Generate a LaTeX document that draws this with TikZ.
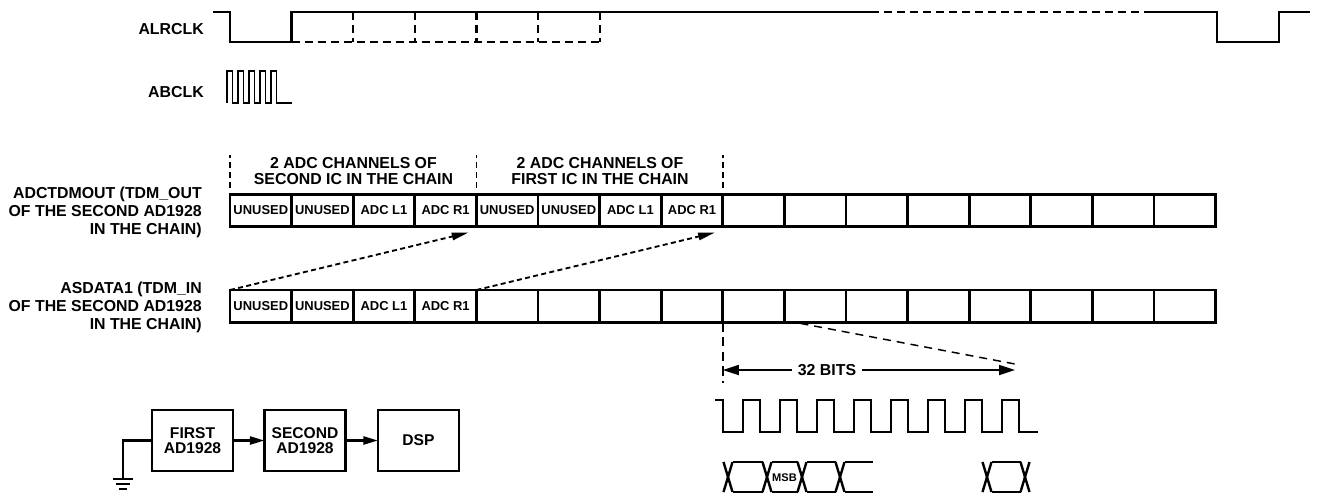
\documentclass[tikz,border=0pt]{standalone}
\usepackage{fontspec}
\setmainfont{Liberation Sans}
\usetikzlibrary{arrows.meta,calc}
\begin{document}
\begin{tikzpicture}[x=0.75pt,y=-0.75pt,
  lbl/.style={font=\fontsize{11.9}{13.75}\selectfont\bfseries, align=right, anchor=east, inner sep=0},
  hdr/.style={font=\fontsize{11.9}{12}\selectfont\bfseries, align=center, inner sep=0},
  cell/.style={draw, line width=2.1pt, minimum width=46.2pt, minimum height=24.3pt, inner sep=0, outer sep=0, anchor=north west, font=\fontsize{9.7}{11}\selectfont\bfseries},
  blk/.style={draw, line width=2.1pt, minimum width=60.75pt, minimum height=45.75pt, inner sep=0, outer sep=0, align=center, font=\fontsize{11.7}{11.25}\selectfont\bfseries},
  sig/.style={line width=1.8pt},
  sigdash/.style={line width=1.8pt, dash pattern=on 6pt off 3.75pt},
  brk/.style={line width=1.3pt, dash pattern=on 4.5pt off 3pt},
  darr/.style={line width=1.4pt, dash pattern=on 3.75pt off 2.5pt, -{Triangle[length=12.5pt,width=5.5pt]}},
  thindash/.style={line width=1.1pt, dash pattern=on 6pt off 4.5pt},
  vdash/.style={line width=1.3pt, dash pattern=on 7pt off 4pt},
  barr/.style={line width=1.3pt, -{Triangle[length=12pt,width=7.5pt]}},
  blkarr/.style={line width=1.8pt, -{Triangle[length=11pt,width=6pt]}},
]
\useasboundingbox (0,0) rectangle (1321,494);

% ---- labels
\node[lbl] (lalr) at (204,29) {ALRCLK};
\node[lbl] (labclk) at (204,92) {ABCLK};
\node[lbl] (lout) at (202,212.5) {ADCTDMOUT (TDM\_OUT\\OF THE SECOND AD1928\\IN THE CHAIN)};
\node[lbl] (lin) at (202,307.5) {ASDATA1 (TDM\_IN\\OF THE SECOND AD1928\\IN THE CHAIN)};

% ---- ALRCLK
\draw[sig] (213,12) -- (230,12) -- (230,42) -- (291.6,42) -- (291.6,12) -- (871,12);
\draw[sigdash] (871,12) -- (1146,12);
\draw[sig] (1146,12) -- (1217,12) -- (1217,42) -- (1279,42) -- (1279,12) -- (1310,12);
\draw[sigdash] (291.6,42) -- (600,42);
\foreach \x in {353.2,414.8,476.4,538,600}
  \draw[sigdash] (\x,12) -- (\x,42);

% ---- ABCLK
\draw[line width=1.4pt] (227,103)
  \foreach \k in {0,...,4}{ -- ({227+11*\k},71) -- ({232.5+11*\k},71) -- ({232.5+11*\k},103) -- ({238+11*\k},103) }
  -- (292,103);

% ---- cells
\foreach \i/\t in {0/UNUSED,1/UNUSED,2/ADC L1,3/ADC R1,4/UNUSED,5/UNUSED,6/ADC L1,7/ADC R1,8/{},9/{},10/{},11/{},12/{},13/{},14/{},15/{}}
  \node[cell] (b\i) at ({230+61.6*\i},194.2) {\t};
\foreach \i/\t in {0/UNUSED,1/UNUSED,2/ADC L1,3/ADC R1,4/{},5/{},6/{},7/{},8/{},9/{},10/{},11/{},12/{},13/{},14/{},15/{}}
  \node[cell] (a\i) at ({230+61.6*\i},290) {\t};

% ---- headers
\node[hdr] (h1) at (353.5,171.4) {2 ADC CHANNELS OF\\SECOND IC IN THE CHAIN};
\node[hdr] (h2) at (600,171.4) {2 ADC CHANNELS OF\\FIRST IC IN THE CHAIN};
\foreach \c in {b0,b4,b8}
  \draw[brk] ($(\c.north west)+(0,-6)$) -- ($(\c.north west)+(0,-39)$);

% ---- dashed arrows
\coordinate (t1) at ($(b3.south east)+(-8,6)$);
\coordinate (t2) at ($(b7.south east)+(-8,6)$);
\draw[darr] (a0.north west) -- (t1);
\draw[darr] (a4.north west) -- (t2);

% ---- 32 bits
\coordinate (d1) at ($(a9.south west)+(16,1)$);
\coordinate (d2) at (1015,364);
\draw[thindash] (d1) -- (d2);
\coordinate (v1) at ($(a8.south west)+(0,61)$);
\draw[vdash] (a8.south west) -- (v1);
\node[font=\fontsize{11.9}{13}\selectfont\bfseries, inner sep=0, inner xsep=4.5pt] (bits) at (827,370) {32 BITS};
\draw[barr] (bits.west) -- (bits -| v1);
\draw[barr] (bits.east) -- (bits -| d2);

% ---- bit clock
\draw[sig] (715,400) -- (723,400)
  \foreach \k in {0,...,7}{ -- ({723+37*\k},400) -- ({723+37*\k},432) -- ({743+37*\k},432) -- ({743+37*\k},400) }
  -- (1019,400) -- (1019,432) -- (1038,432);

% ---- data
\foreach \c in {728,767,802,840,987,1025}{
  \draw[sig] ({\c-4.5},462) -- ({\c+4.5},492);
  \draw[sig] ({\c-4.5},492) -- ({\c+4.5},462);
}
\foreach \p/\q in {728/767,767/802,802/840,987/1025}{
  \draw[sig] ({\p+4.5},462) -- ({\q-4.5},462);
  \draw[sig] ({\p+4.5},492) -- ({\q-4.5},492);
}
\draw[sig] (844.5,462) -- (873,462);
\draw[sig] (844.5,492) -- (873,492);
\node[font=\fontsize{8.3}{9}\selectfont\bfseries, inner sep=0] (msb) at (784.5,477.5) {MSB};

% ---- block diagram
\node[blk] (first) at (192.5,440.5) {FIRST\\AD1928};
\node[blk] (second) at (305,440.5) {SECOND\\AD1928};
\node[blk] (dsp) at (418.5,440.5) {DSP};
\draw[blkarr] (first) -- (second);
\draw[blkarr] (second) -- (dsp);
\coordinate (g) at (123,479);
\draw[sig] (first.west) -| (g);
\draw[sig] ($(g)+(-10,0)$) -- ++(20,0);
\draw[sig] ($(g)+(-7,5)$) -- ++(14,0);
\draw[sig] ($(g)+(-4,10)$) -- ++(8,0);
\end{tikzpicture}
\end{document}
